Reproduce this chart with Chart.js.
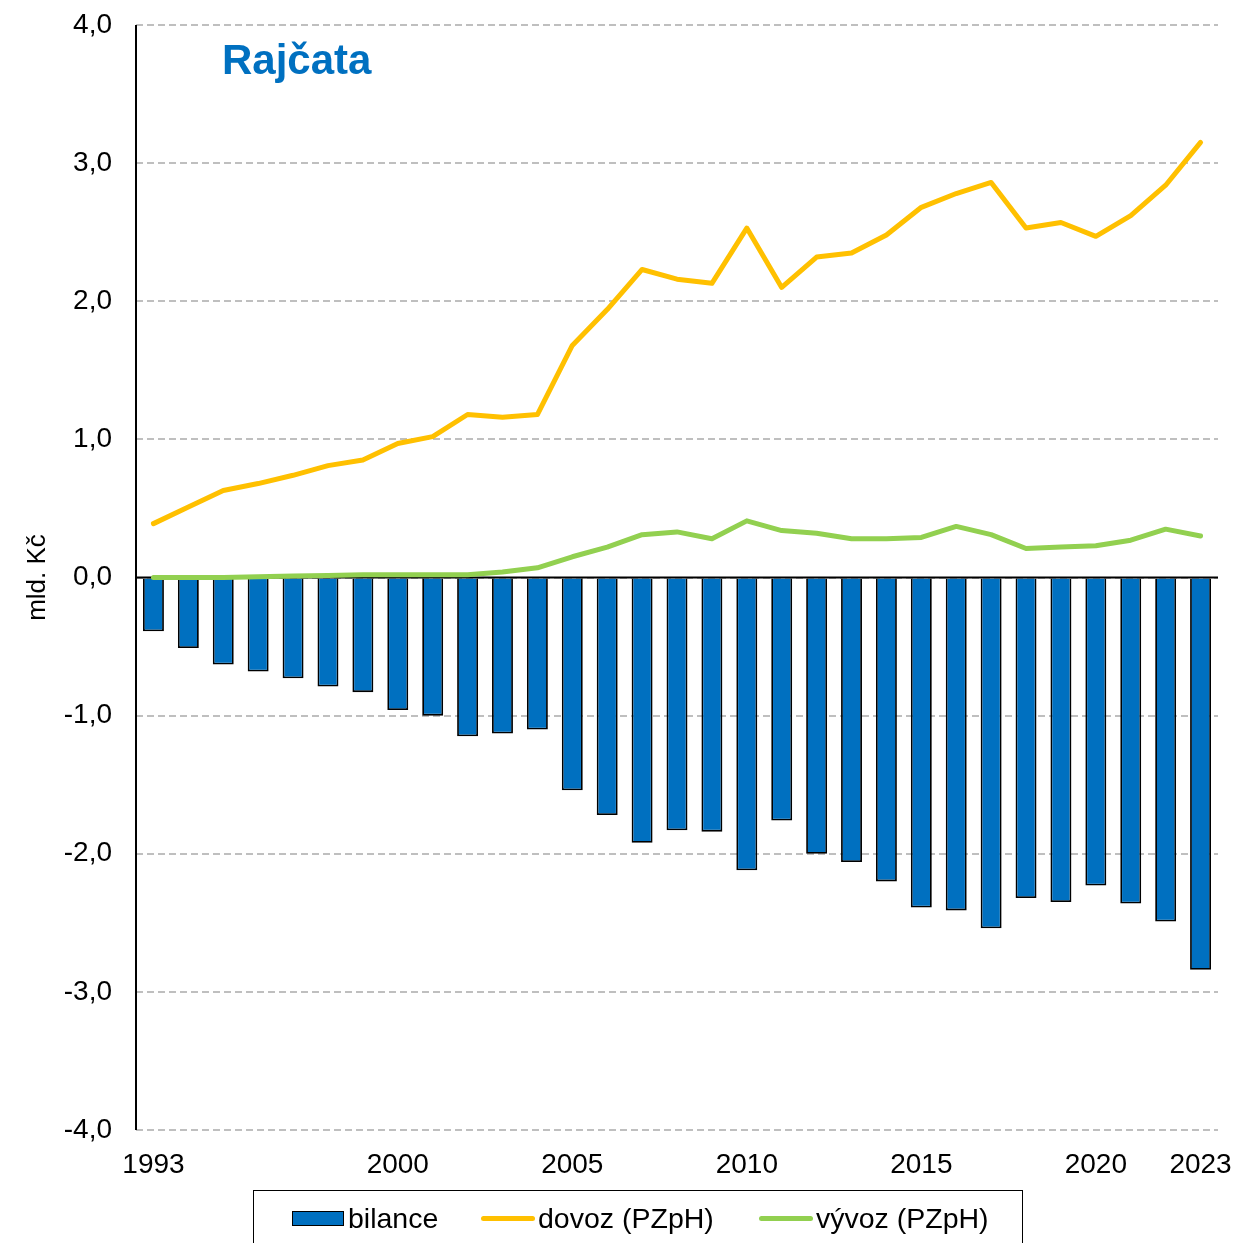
<!DOCTYPE html>
<html lang="cs">
<head>
  <meta charset="UTF-8">
  <title>Rajčata</title>
  <script src="https://cdn.jsdelivr.net/npm/chart.js"></script>
  <style>
    body {
      margin: 0;
      padding: 0;
      background: #fff;
      font-family: "Liberation Sans", Arial, sans-serif;
    }
    .wrap {
      position: relative;
      width: 1238px;
      height: 1243px;
      overflow: hidden;
    }
    .legend {
      position: absolute;
      left: 253px;
      top: 1190px;
      width: 770px;
      height: 80px;
      border: 1.5px solid #000;
      box-sizing: border-box;
      font-size: 28.5px;
      color: #000;
    }
    .item {
      position: absolute;
      top: 10px;
      display: flex;
      align-items: center;
      height: 34px;
    }
    .swatch-bar {
      width: 52px;
      height: 15px;
      background: #0070c0;
      border: 1.5px solid #000;
      box-sizing: border-box;
      margin-right: 4px;
    }
    .swatch-line {
      width: 54px;
      height: 5px;
      border-radius: 3px;
      margin-right: 3px;
    }
  </style>
</head>
<body>
<div class="wrap">
  <canvas id="chart"></canvas>
  <div class="legend">
    <div class="item" style="left:38px"><span class="swatch-bar"></span>bilance</div>
    <div class="item" style="left:227px"><span class="swatch-line" style="background:#ffc000"></span>dovoz (PZpH)</div>
    <div class="item" style="left:505px"><span class="swatch-line" style="background:#92d050"></span>vývoz (PZpH)</div>
  </div>
</div>

<script>
  const years = [1993, 1994, 1995, 1996, 1997, 1998, 1999, 2000, 2001, 2002, 2003, 2004, 2005, 2006, 2007, 2008,
    2009, 2010, 2011, 2012, 2013, 2014, 2015, 2016, 2017, 2018, 2019, 2020, 2021, 2022, 2023];
  const shownYears = [1993, 2000, 2005, 2010, 2015, 2020, 2023];

  // mld. Kč
  const bilance = [-0.39, -0.51, -0.63, -0.68, -0.73, -0.79, -0.83, -0.96, -1.00, -1.15, -1.13, -1.10, -1.54, -1.72,
    -1.92, -1.83, -1.84, -2.12, -1.76, -2.00, -2.06, -2.20, -2.39, -2.41, -2.54, -2.32, -2.35, -2.23, -2.36, -2.49, -2.84];
  const dovoz = [0.39, 0.51, 0.63, 0.68, 0.74, 0.81, 0.85, 0.97, 1.02, 1.18, 1.16, 1.18, 1.68, 1.94,
    2.23, 2.16, 2.13, 2.53, 2.10, 2.32, 2.35, 2.48, 2.68, 2.78, 2.86, 2.53, 2.57, 2.47, 2.62, 2.84, 3.15];
  const vyvoz = [0.00, 0.00, 0.00, 0.005, 0.01, 0.015, 0.02, 0.02, 0.02, 0.02, 0.04, 0.07, 0.15, 0.22,
    0.31, 0.33, 0.28, 0.41, 0.34, 0.32, 0.28, 0.28, 0.29, 0.37, 0.31, 0.21, 0.22, 0.23, 0.27, 0.35, 0.30];

  const font = '"Liberation Sans", Arial, sans-serif';

  // zero line + left axis + panel title
  const extras = {
    id: 'extras',
    afterDatasetDraw(chart, args) {
      if (args.index !== 0) return;
      const { ctx, chartArea } = chart;
      const y0 = chart.scales.y.getPixelForValue(0);
      ctx.save();
      ctx.strokeStyle = '#000';
      ctx.lineWidth = 2;
      ctx.beginPath();
      ctx.moveTo(chartArea.left, y0);
      ctx.lineTo(chartArea.right, y0);
      ctx.stroke();
      ctx.restore();
    },
    afterDraw(chart) {
      const { ctx, chartArea } = chart;
      ctx.save();
      ctx.strokeStyle = '#000';
      ctx.lineWidth = 2;
      ctx.beginPath();
      ctx.moveTo(chartArea.left, chartArea.top);
      ctx.lineTo(chartArea.left, chartArea.bottom);
      ctx.stroke();

      ctx.fillStyle = '#0070c0';
      ctx.font = 'bold 42px ' + font;
      ctx.textAlign = 'left';
      ctx.textBaseline = 'alphabetic';
      ctx.fillText('Rajčata', chartArea.left + 86, 74);
      ctx.restore();
    }
  };

  new Chart(document.getElementById('chart'), {
    type: 'bar',
    data: {
      labels: years,
      datasets: [
        {
          type: 'bar',
          label: 'bilance',
          data: bilance,
          backgroundColor: '#0070c0',
          borderColor: '#000',
          borderWidth: 1.8,
          barPercentage: 0.6,
          categoryPercentage: 1,
          order: 3
        },
        {
          type: 'line',
          label: 'dovoz (PZpH)',
          data: dovoz,
          borderColor: '#ffc000',
          borderWidth: 5,
          pointRadius: 0,
          borderCapStyle: 'round',
          borderJoinStyle: 'round',
          tension: 0,
          order: 2
        },
        {
          type: 'line',
          label: 'vývoz (PZpH)',
          data: vyvoz,
          borderColor: '#92d050',
          borderWidth: 5,
          pointRadius: 0,
          borderCapStyle: 'round',
          borderJoinStyle: 'round',
          tension: 0,
          order: 1
        }
      ]
    },
    options: {
      responsive: true,
      maintainAspectRatio: false,
      animation: false,
      layout: { padding: { top: 25, right: 20, left: 0, bottom: 0 } },
      plugins: {
        legend: { display: false },
        tooltip: { enabled: false }
      },
      scales: {
        x: {
          offset: true,
          grid: { display: false, drawTicks: false },
          border: { display: false },
          ticks: {
            autoSkip: false,
            maxRotation: 0,
            padding: 18,
            color: '#000',
            font: { family: font, size: 28 },
            callback(value) {
              const yr = years[value];
              return shownYears.includes(yr) ? String(yr) : '';
            }
          },
          afterFit(scale) {
            scale.height = 113;
            scale.paddingLeft = 0;
            scale.paddingRight = 0;
          }
        },
        y: {
          min: -4,
          max: 4,
          grid: { color: '#bfbfbf', lineWidth: 2, drawTicks: false },
          border: { display: false, dash: [7, 4] },
          ticks: {
            stepSize: 1,
            padding: 24,
            color: '#000',
            font: { family: font, size: 28 },
            callback: (v) => v.toFixed(1).replace('.', ',')
          },
          title: {
            display: true,
            text: 'mld. Kč',
            color: '#000',
            font: { family: font, size: 26 },
            padding: { top: 22 }
          },
          afterFit(scale) {
            scale.width = 136;
            scale.paddingTop = 0;
            scale.paddingBottom = 0;
          }
        }
      }
    },
    plugins: [extras]
  });
</script>
</body>
</html>
